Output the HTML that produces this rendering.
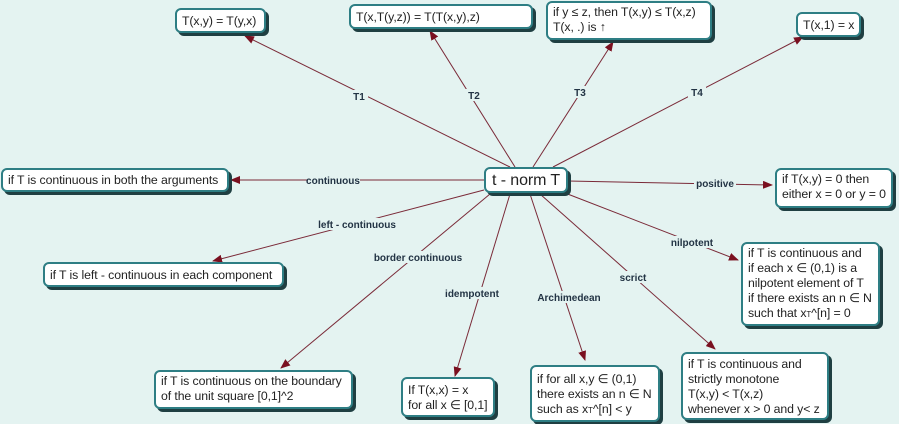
<!DOCTYPE html>
<html><head><meta charset="utf-8"><style>
body{margin:0;background:#e4f3f1;width:899px;height:424px;overflow:hidden;font-family:"Liberation Sans",sans-serif;}
.b{position:absolute;background:#fff;border:2px solid #2e7e84;border-radius:6px;box-shadow:3px 3px 0 #1f3f42;font-size:12.3px;color:#222;padding:2px 5px;box-sizing:border-box;line-height:15px;white-space:nowrap;letter-spacing:-0.1px}
svg{position:absolute;left:0;top:0}
.l{font-size:10px;font-weight:bold;fill:#234;font-family:"Liberation Sans",sans-serif}
</style></head><body>
<svg width="899" height="424">
<defs><marker id="a" markerWidth="10" markerHeight="8" refX="9" refY="4" orient="auto" markerUnits="userSpaceOnUse"><path d="M0,0L10,4L0,8z" fill="#7a1020"/></marker></defs>
<g stroke="#7a2a38" stroke-width="1" fill="none" marker-end="url(#a)">
<line x1="510" y1="167" x2="245" y2="36"/>
<line x1="515" y1="167" x2="430" y2="31"/>
<line x1="533" y1="167" x2="613" y2="42"/>
<line x1="553" y1="167" x2="803" y2="37"/>
<line x1="484" y1="180" x2="231" y2="180"/>
<line x1="568" y1="181" x2="772" y2="185"/>
<line x1="484" y1="190" x2="213" y2="261"/>
<line x1="490" y1="194" x2="281" y2="368"/>
<line x1="510" y1="194" x2="455" y2="376"/>
<line x1="530" y1="194" x2="585" y2="360"/>
<line x1="540" y1="194" x2="715" y2="349"/>
<line x1="565" y1="193" x2="738" y2="260"/>
</g>
<g class="l" text-anchor="middle">
<rect x="350" y="90" width="18" height="12" fill="#e4f3f1"/><text x="359" y="100">T1</text>
<rect x="465" y="89" width="18" height="12" fill="#e4f3f1"/><text x="474" y="99">T2</text>
<rect x="571" y="86" width="18" height="12" fill="#e4f3f1"/><text x="580" y="96">T3</text>
<rect x="688" y="86" width="18" height="12" fill="#e4f3f1"/><text x="697" y="96">T4</text>
<rect x="308" y="174" width="52" height="12" fill="#e4f3f1"/><text x="333" y="184">continuous</text>
<rect x="694" y="177" width="42" height="12" fill="#e4f3f1"/><text x="715" y="187">positive</text>
<rect x="320" y="218" width="74" height="12" fill="#e4f3f1"/><text x="357" y="228">left - continuous</text>
<rect x="375" y="251" width="88" height="12" fill="#e4f3f1"/><text x="418" y="261">border continuous</text>
<rect x="446" y="287" width="52" height="12" fill="#e4f3f1"/><text x="472" y="297">idempotent</text>
<rect x="536" y="291" width="66" height="12" fill="#e4f3f1"/><text x="569" y="301">Archimedean</text>
<rect x="617" y="271" width="32" height="12" fill="#e4f3f1"/><text x="633" y="281">scrict</text>
<rect x="672" y="236" width="40" height="12" fill="#e4f3f1"/><text x="692" y="246">nilpotent</text>
</g>
</svg>
<div class="b" style="left:175px;top:8px;width:91px;height:25px;padding-top:4px">T(x,y) = T(y,x)</div>
<div class="b" style="left:349px;top:4px;width:184px;height:25px;padding-top:4px">T(x,T(y,z)) = T(T(x,y),z)</div>
<div class="b" style="left:546px;top:1px;width:166px;height:39px">if y ≤ z, then T(x,y) ≤ T(x,z)<br>T(x, .) is ↑</div>
<div class="b" style="left:796px;top:12px;width:65px;height:25px;padding-top:4px">T(x,1) = x</div>
<div class="b" style="left:484px;top:167px;width:84px;height:26px;font-size:16px;line-height:19px;padding:2px 6px">t - norm T</div>
<div class="b" style="left:1px;top:168px;width:228px;height:24px;padding-top:3px">if T is continuous in both the arguments</div>
<div class="b" style="left:775px;top:168px;width:118px;height:40px">if T(x,y) = 0 then<br>either x = 0 or y = 0</div>
<div class="b" style="left:43px;top:262px;width:241px;height:25px;padding-top:4px">if T is left - continuous in each component</div>
<div class="b" style="left:741px;top:242px;width:139px;height:84px">if T is continuous and<br>if each x ∈ (0,1) is a<br>nilpotent element of T<br>if there exists an n ∈ N<br>such that x<span style="font-size:8px">T</span>^[n] = 0</div>
<div class="b" style="left:154px;top:370px;width:199px;height:39px">if T is continuous on the boundary<br>of the unit square [0,1]^2</div>
<div class="b" style="left:401px;top:377px;width:94px;height:40px;padding-top:4px">If T(x,x) = x<br>for all x ∈ [0,1]</div>
<div class="b" style="left:530px;top:365px;width:130px;height:57px;padding-top:5px">if for all x,y ∈ (0,1)<br>there exists an n ∈ N<br>such as x<span style="font-size:8px">T</span>^[n] &lt; y</div>
<div class="b" style="left:681px;top:352px;width:148px;height:68px;padding-top:3px">if T is continuous and<br>strictly monotone<br>T(x,y) &lt; T(x,z)<br>whenever x &gt; 0 and y&lt; z</div>
</body></html>
